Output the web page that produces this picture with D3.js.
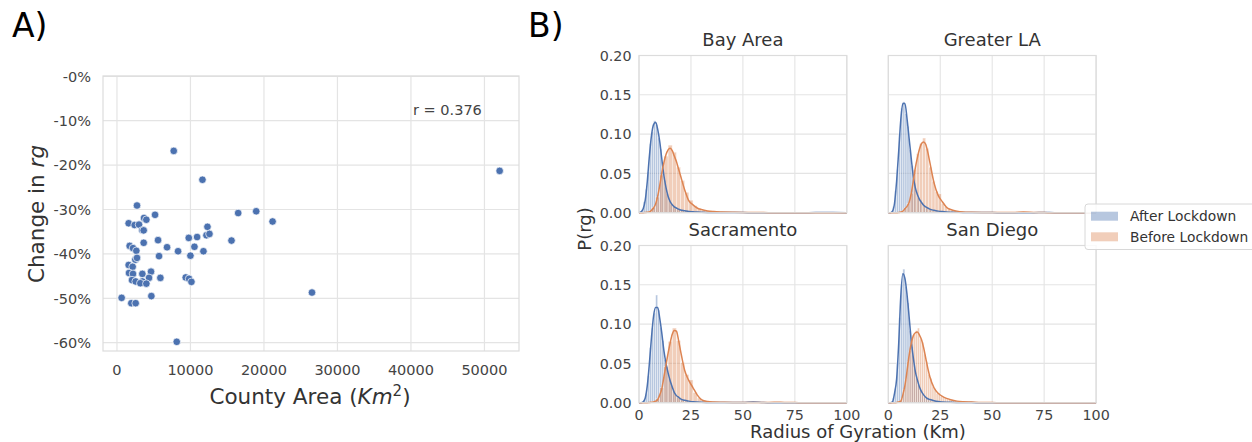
<!DOCTYPE html>
<html>
<head>
<meta charset="utf-8">
<script src="https://cdn.jsdelivr.net/npm/d3@7"></script>
<style>
  body { margin: 0; background: #fff; }
  svg { display: block; font-family: "DejaVu Sans", sans-serif; }
</style>
</head>
<body>
<svg id="fig" width="1252" height="442"></svg>
<script>
// ---- panel A: county area vs change in radius of gyration ----
const countyArea = [7724, 11631, 52068, 2726, 5180, 3680, 3998, 1590, 2408, 2999, 3453, 3635,
  16493, 18946, 21172, 12313, 12176, 12585, 9768, 10904, 5589, 15584, 3635, 1726, 2181, 6815,
  10541, 8314, 11767, 2635, 9995, 5725, 2499, 2726, 1590, 2135, 1636, 2181, 4634, 3453, 4362,
  5906, 9359, 9814, 10132, 2045, 2544, 3453, 3180, 3998, 636, 4680, 1954, 2544, 26533, 8133];
const rgChange = [-16.8, -23.3, -21.3, -29.1, -31.2, -31.9, -32.3, -33.1, -33.5, -33.4, -34.7, -34.7,
  -30.8, -30.4, -32.7, -33.9, -35.8, -35.5, -36.4, -36.2, -36.9, -37.0, -37.5, -38.2, -38.7, -38.5,
  -38.4, -39.4, -39.4, -39.3, -40.4, -40.5, -41.3, -40.9, -42.5, -42.9, -44.3, -44.5, -44.0, -44.5, -45.4,
  -45.4, -45.3, -45.6, -46.3, -45.9, -46.2, -46.2, -46.6, -46.7, -49.9, -49.5, -51.1, -51.1, -48.7, -59.8];
const areaTicks = [0, 10000, 20000, 30000, 40000, 50000];
const changeTicks = [0, -10, -20, -30, -40, -50, -60];
const changeTickLabels = ["-0%", "-10%", "-20%", "-30%", "-40%", "-50%", "-60%"];
const corrLabel = "r = 0.376";

// ---- panel B: distribution of radius of gyration ----
const regions = ["Bay Area", "Greater LA", "Sacramento", "San Diego"];
const seriesNames = ["After Lockdown", "Before Lockdown"];
const kmTicks = [0, 25, 50, 75, 100];
const probTicks = [0, 0.05, 0.10, 0.15, 0.20];

const kdeKm = [0,1,2,3,4,5,6,7,8,9,10,11,12,13,14,15,16,17,18,19,20,22,24,26,28,30,33,36,40,45,50,55,60,65,70,75,80,90,100];

const kdeAfterBay = [0,0.001,0.005,0.016,0.040,0.072,0.098,0.112,0.115,0.106,0.090,0.068,0.047,0.032,0.021,0.014,0.010,0.0075,0.006,0.0045,0.0035,0.0025,0.0015,0.0012,0.0008,0.0006,0.0004,0.0003,0.0002,0.0001,0.0001,0,0,0,0,0,0,0.0002,0];
const kdeBeforeBay = [0,0,0,0.0002,0.0005,0.001,0.003,0.006,0.011,0.021,0.035,0.051,0.064,0.074,0.080,0.082,0.079,0.072,0.065,0.056,0.047,0.029,0.015,0.010,0.006,0.004,0.0022,0.0014,0.0009,0.0005,0.0003,0.0002,0.0001,0,0,0,0,0,0];
const kdeAfterLA = [0,0,0.002,0.012,0.040,0.078,0.118,0.139,0.139,0.120,0.095,0.070,0.047,0.032,0.023,0.017,0.013,0.0095,0.0075,0.006,0.0045,0.003,0.002,0.0014,0.001,0.0007,0.0005,0.0003,0.0002,0.0001,0.0001,0,0,0,0,0.0002,0,0,0];
const kdeBeforeLA = [0,0,0,0,0,0.0003,0.0008,0.002,0.005,0.008,0.013,0.024,0.040,0.057,0.070,0.081,0.088,0.090,0.087,0.077,0.064,0.038,0.022,0.014,0.007,0.004,0.002,0.001,0.0006,0.0003,0.0002,0.0002,0.0002,0.0008,0.0004,0.0001,0,0,0];
const kdeAfterSac = [0,0,0.001,0.006,0.022,0.050,0.083,0.110,0.121,0.121,0.107,0.088,0.066,0.050,0.038,0.028,0.020,0.013,0.009,0.007,0.005,0.003,0.002,0.0012,0.0008,0.0005,0.0003,0.0002,0.0001,0.0001,0.0002,0.0008,0.0001,0,0,0,0,0,0];
const kdeBeforeSac = [0,0,0,0,0,0.0002,0.0005,0.001,0.002,0.004,0.010,0.018,0.033,0.048,0.063,0.076,0.087,0.092,0.091,0.080,0.066,0.041,0.028,0.019,0.010,0.004,0.0015,0.0008,0.0005,0.0003,0.0002,0.0002,0.0002,0.0005,0.0004,0.0001,0,0,0];
const kdeAfterSD = [0,0,0.001,0.012,0.030,0.075,0.135,0.164,0.158,0.138,0.110,0.080,0.058,0.040,0.029,0.020,0.014,0.010,0.007,0.005,0.004,0.0025,0.0015,0.001,0.0007,0.0005,0.0003,0.0002,0.0001,0,0,0,0,0,0,0,0,0,0];
const kdeBeforeSD = [0,0,0,0,0.0003,0.001,0.002,0.010,0.022,0.040,0.060,0.075,0.085,0.089,0.090,0.086,0.080,0.070,0.057,0.044,0.033,0.019,0.012,0.008,0.0055,0.0038,0.002,0.0012,0.0008,0.0003,0.0001,0,0,0,0,0,0,0,0];

// histogram bar heights (density), bins start at 0 km
const binAfter = [1, 1, 1, 1];
const binBefore = [2, 1.5, 2, 1];
const histAfterBay = [0.0005,0.004,0.014,0.030,0.052,0.088,0.103,0.117,0.112,0.095,0.081,0.055,0.041,0.024,0.018,0.011,0.009,0.007,0.005,0.004,0.003,0.003,0.002,0.002,0.001];
const histBeforeBay = [0,0.0003,0.002,0.007,0.020,0.048,0.072,0.086,0.077,0.058,0.041,0.026,0.016,0.009,0.005,0.003,0.002,0.0015,0.001,0.001];
const histAfterLA = [0,0.001,0.008,0.028,0.055,0.101,0.133,0.141,0.126,0.110,0.080,0.060,0.038,0.029,0.019,0.016,0.010,0.009,0.006,0.005,0.004,0.003,0.002,0.002,0.001];
const histBeforeLA = [0,0,0.0002,0.0005,0.002,0.006,0.012,0.025,0.055,0.075,0.088,0.095,0.082,0.058,0.040,0.027,0.024,0.012,0.008,0.005,0.003,0.002,0.002,0.001];
const histAfterSac = [0,0.0005,0.004,0.012,0.034,0.070,0.095,0.114,0.137,0.118,0.096,0.079,0.055,0.046,0.031,0.025,0.015,0.012,0.007,0.006,0.004,0.003,0.002,0.002,0.001];
const histBeforeSac = [0,0,0.0003,0.0015,0.005,0.019,0.046,0.078,0.095,0.079,0.051,0.036,0.029,0.013,0.006,0.003,0.0015,0.001,0.0007,0.0005];
const histAfterSD = [0,0.0005,0.006,0.018,0.050,0.108,0.150,0.170,0.148,0.127,0.092,0.071,0.047,0.035,0.023,0.018,0.011,0.009,0.006,0.005,0.003,0.002,0.002,0.001,0.001];
const histBeforeSD = [0,0,0,0,0.0003,0.002,0.005,0.017,0.030,0.052,0.066,0.082,0.088,0.092,0.095,0.081,0.077,0.062,0.052,0.036,0.031,0.021,0.018,0.012,0.012,0.008,0.007,0.006,0.005,0.004,0.004,0.003,0.0025,0.002,0.0015,0.0012,0.001,0.001,0.0008,0.0007];

const blue = "#4c72b0", orange = "#dd8452";
const gridCol = "#e4e4e4", frameCol = "#dcdcdc", tickCol = "#444", labelCol = "#333";

const svg = d3.select("#fig");

// panel letters
svg.append("text").attr("x", 12).attr("y", 37).attr("font-size", 33).text("A)");
svg.append("text").attr("x", 528).attr("y", 37).attr("font-size", 33).text("B)");

// ================= panel A =================
const ax = d3.scaleLinear().domain([-1900, 54700]).range([103, 519]);
const ay = d3.scaleLinear().domain([-61.87, 0.07]).range([351, 76]);
const gA = svg.append("g");

gA.selectAll(".vg").data(areaTicks).join("line")
  .attr("x1", d => ax(d)).attr("x2", d => ax(d)).attr("y1", 76).attr("y2", 351)
  .attr("stroke", gridCol).attr("stroke-width", 1.2);
gA.selectAll(".hg").data(changeTicks).join("line")
  .attr("y1", d => ay(d)).attr("y2", d => ay(d)).attr("x1", 103).attr("x2", 519)
  .attr("stroke", gridCol).attr("stroke-width", 1.2);
gA.append("rect").attr("x", 103).attr("y", 76).attr("width", 416).attr("height", 275)
  .attr("fill", "none").attr("stroke", frameCol).attr("stroke-width", 1.2);

gA.selectAll(".xt").data(areaTicks).join("text")
  .attr("x", d => ax(d)).attr("y", 375).attr("text-anchor", "middle")
  .attr("font-size", 14.5).attr("fill", tickCol).text(d => d);
gA.selectAll(".yt").data(changeTicks).join("text")
  .attr("x", 91).attr("y", d => ay(d)).attr("dy", "0.36em").attr("text-anchor", "end")
  .attr("font-size", 14.5).attr("fill", tickCol).text((d, i) => changeTickLabels[i]);

gA.selectAll("circle").data(countyArea).join("circle")
  .attr("cx", d => ax(d)).attr("cy", (d, i) => ay(rgChange[i])).attr("r", 3.8)
  .attr("fill", blue).attr("stroke", "#fff").attr("stroke-width", 0.7);

gA.append("text").attr("x", 413).attr("y", 115).attr("font-size", 14.5).attr("fill", tickCol).text(corrLabel);

const xl = gA.append("text").attr("x", 310).attr("y", 404).attr("text-anchor", "middle")
  .attr("font-size", 21.5).attr("fill", labelCol);
xl.append("tspan").text("County Area (");
xl.append("tspan").attr("font-style", "italic").text("Km");
xl.append("tspan").attr("font-size", 15).attr("dy", -8).text("2");
xl.append("tspan").attr("dy", 8).text(")");

const yl = gA.append("text").attr("transform", "translate(36,214) rotate(-90)")
  .attr("text-anchor", "middle").attr("dy", "0.36em").attr("font-size", 21.5).attr("fill", labelCol);
yl.append("tspan").text("Change in ");
yl.append("tspan").attr("font-style", "italic").text("rg");

// ================= panel B =================
const panels = [
  { name: regions[0], left: 639, top: 55.5, kA: kdeAfterBay, kB: kdeBeforeBay, hA: histAfterBay, hB: histBeforeBay, bw: 0, showY: true, showX: false },
  { name: regions[1], left: 888.3, top: 55.5, kA: kdeAfterLA, kB: kdeBeforeLA, hA: histAfterLA, hB: histBeforeLA, bw: 1, showY: false, showX: false },
  { name: regions[2], left: 639, top: 245.5, kA: kdeAfterSac, kB: kdeBeforeSac, hA: histAfterSac, hB: histBeforeSac, bw: 2, showY: true, showX: true },
  { name: regions[3], left: 888.3, top: 245.5, kA: kdeAfterSD, kB: kdeBeforeSD, hA: histAfterSD, hB: histBeforeSD, bw: 3, showY: false, showX: true }
];
const pw = 207.8, ph = 157.2;

panels.forEach(p => {
  const x = d3.scaleLinear().domain([0, 100]).range([p.left, p.left + pw]);
  const y = d3.scaleLinear().domain([0, 0.2]).range([p.top + ph, p.top]);
  const g = svg.append("g");

  g.selectAll(".vg").data(kmTicks).join("line")
    .attr("x1", d => x(d)).attr("x2", d => x(d)).attr("y1", p.top).attr("y2", p.top + ph)
    .attr("stroke", gridCol).attr("stroke-width", 1.1);
  g.selectAll(".hg").data(probTicks).join("line")
    .attr("y1", d => y(d)).attr("y2", d => y(d)).attr("x1", p.left).attr("x2", p.left + pw)
    .attr("stroke", gridCol).attr("stroke-width", 1.1);

  const drawHist = (vals, bw, col) => {
    g.append("g").selectAll("rect").data(vals).join("rect")
      .attr("x", (d, i) => x(i * bw)).attr("width", (d, i) => x((i + 1) * bw) - x(i * bw))
      .attr("y", d => y(d)).attr("height", d => y(0) - y(d))
      .attr("fill", col).attr("fill-opacity", 0.4)
      .attr("stroke", "#fff").attr("stroke-width", 0.5).attr("stroke-opacity", 0.8);
  };
  drawHist(p.hA, binAfter[p.bw], blue);
  drawHist(p.hB, binBefore[p.bw], orange);

  const line = vals => d3.line().x((d, i) => x(d)).y((d, i) => y(vals[i])).curve(d3.curveMonotoneX)(kdeKm);
  g.append("path").attr("d", line(p.kA)).attr("fill", "none").attr("stroke", blue).attr("stroke-width", 1.5);
  g.append("path").attr("d", line(p.kB)).attr("fill", "none").attr("stroke", orange).attr("stroke-width", 1.5);

  g.append("rect").attr("x", p.left).attr("y", p.top).attr("width", pw).attr("height", ph)
    .attr("fill", "none").attr("stroke", frameCol).attr("stroke-width", 1.2);

  g.append("text").attr("x", p.left + pw / 2).attr("y", p.top - 10).attr("text-anchor", "middle")
    .attr("font-size", 18).attr("fill", labelCol).text(p.name);

  if (p.showY) {
    g.selectAll(".yt").data(probTicks).join("text")
      .attr("x", p.left - 7.5).attr("y", d => y(d)).attr("dy", "0.36em").attr("text-anchor", "end")
      .attr("font-size", 14.3).attr("fill", tickCol).text(d => d.toFixed(2));
  }
  if (p.showX) {
    g.selectAll(".xt").data(kmTicks).join("text")
      .attr("x", d => x(d)).attr("y", p.top + ph + 17.5).attr("text-anchor", "middle")
      .attr("font-size", 14.3).attr("fill", tickCol).text(d => d);
  }
});

svg.append("text").attr("transform", "translate(585,229) rotate(-90)").attr("text-anchor", "middle")
  .attr("dy", "0.36em").attr("font-size", 18).attr("fill", labelCol).text("P(rg)");
svg.append("text").attr("x", 858).attr("y", 438).attr("text-anchor", "middle")
  .attr("font-size", 18).attr("fill", labelCol).text("Radius of Gyration (Km)");

// legend
const lg = svg.append("g");
lg.append("rect").attr("x", 1085).attr("y", 204).attr("width", 185).attr("height", 45.5).attr("rx", 3)
  .attr("fill", "#fff").attr("fill-opacity", 0.85).attr("stroke", "#d8d8d8");
[blue, orange].forEach((c, i) => {
  lg.append("rect").attr("x", 1091).attr("y", 211.7 + i * 20.6).attr("width", 27).attr("height", 9)
    .attr("fill", c).attr("fill-opacity", 0.4);
  lg.append("text").attr("x", 1130).attr("y", 221 + i * 20.6).attr("font-size", 13.8)
    .attr("fill", labelCol).text(seriesNames[i]);
});
</script>
</body>
</html>
